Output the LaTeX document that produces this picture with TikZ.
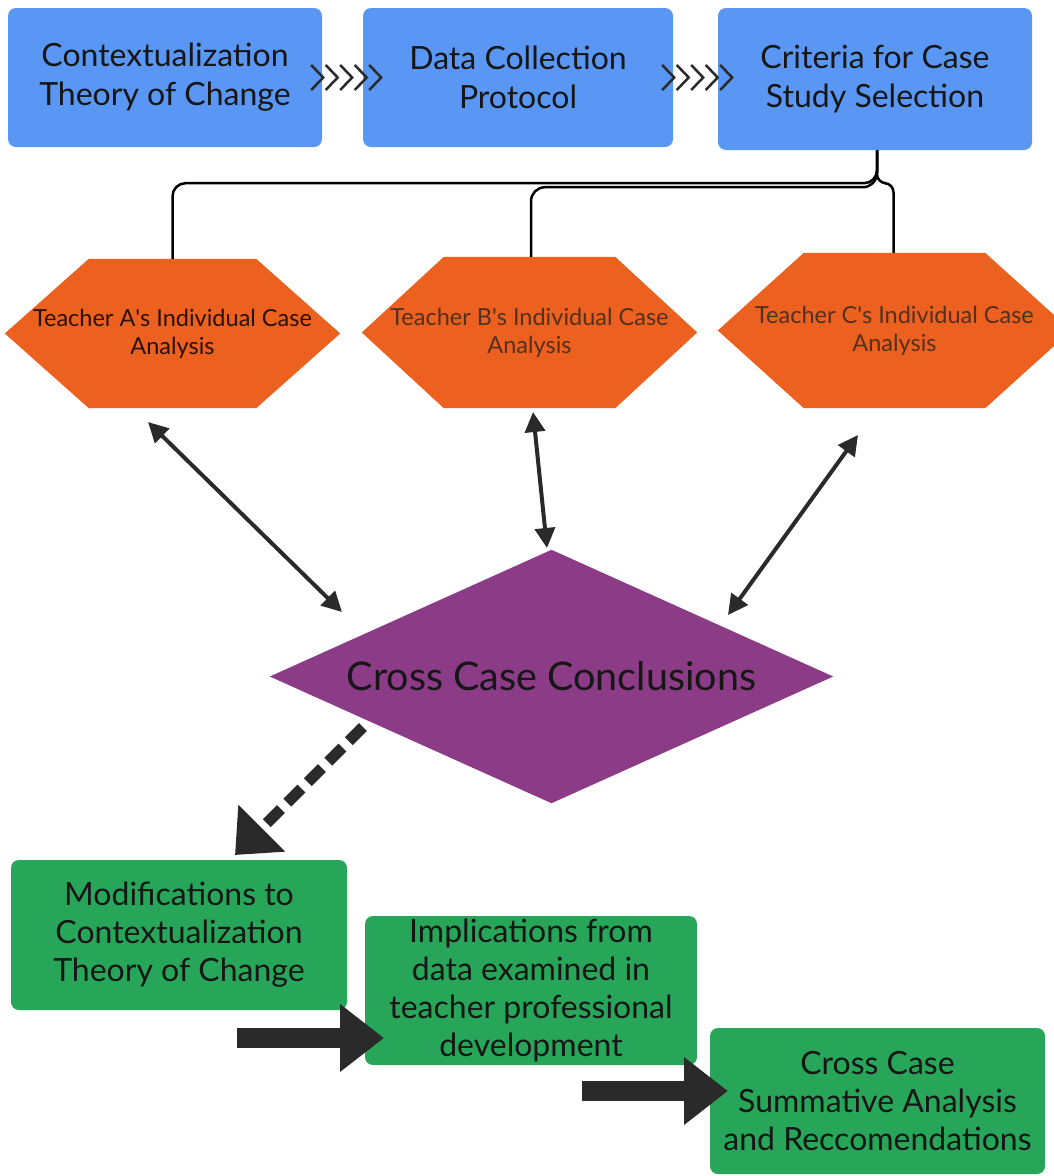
\documentclass[tikz,border=0pt]{standalone}
\usepackage{fontspec}
\setmainfont{Lato}
\usetikzlibrary{arrows.meta,backgrounds}
\definecolor{cblue}{HTML}{5A96F4}
\definecolor{corange}{HTML}{EC6020}
\definecolor{cpurple}{HTML}{8C3B86}
\definecolor{cgreen}{HTML}{27A65A}
\definecolor{cdark}{HTML}{2A2A2A}
\definecolor{ctxt}{HTML}{161616}
\definecolor{chexA}{HTML}{2A1206}
\definecolor{chex}{HTML}{55301C}
\begin{document}
\begin{tikzpicture}[x=1pt,y=-1pt,
  bluebox/.style={fill=cblue, rounded corners=8pt, inner sep=0pt, text=ctxt, align=center,
    font=\fontsize{32}{39}\selectfont},
  greenbox/.style={fill=cgreen, rounded corners=8pt, inner sep=0pt, text=ctxt, align=center,
    font=\fontsize{32}{38}\selectfont},
  hexnode/.style={inner sep=0pt, align=center, font=\fontsize{23.5}{28}\selectfont},
  chev/.style={draw=cdark, line width=2.5pt, line join=miter},
  conn/.style={draw=black, line width=2.5pt},
  dbl/.style={cdark, line width=4pt, {Triangle[length=20pt,width=20pt]}-{Triangle[length=20pt,width=20pt]}},
  dasharrow/.style={cdark, line width=11pt, dash pattern=on 20pt off 9pt, -{Triangle[length=38pt,width=64pt]}},
  fatarrow/.style={cdark, line width=20pt, -{Triangle[length=44pt,width=65pt]}}
]
\useasboundingbox (0,0) rectangle (1053,1176);

% top boxes
\node[bluebox, minimum width=314pt, minimum height=139pt] (b1) at (165,77.5) {Contextualization\\Theory of Change};
\node[bluebox, minimum width=310pt, minimum height=139pt] (b2) at (518,77.5) {Data Collection\\Protocol};
\node[bluebox, minimum width=314pt, minimum height=142pt] (b3) at (875,79) {Criteria for Case\\Study Selection};

% chevron connectors
\foreach \i in {0,...,4} {
  \draw[chev] ([xshift={-11pt+14.5pt*\i}, yshift=12.5pt]b1.east) -- ++(12,12.5) -- ++(-12,12.5);
  \draw[chev] ([xshift={-11pt+14.5pt*\i}, yshift=12.5pt]b2.east) -- ++(12,12.5) -- ++(-12,12.5);
}

% hexagons
\node[hexnode, minimum width=335pt, minimum height=149pt, text=chexA] (hA) at (172.5,333.5) {Teacher A\textquotesingle s Individual Case\\Analysis};
\node[hexnode, minimum width=335pt, minimum height=151pt, text=chex] (hB) at (529.5,332.5) {Teacher B\textquotesingle s Individual Case\\Analysis};
\node[hexnode, minimum width=353pt, minimum height=155pt, text=chex] (hC) at (894.5,330.5) {Teacher C\textquotesingle s Individual Case\\Analysis};

% diamond
\node[inner sep=0pt, minimum width=563pt, minimum height=253pt, text=ctxt,
      font=\fontsize{39.5}{47}\selectfont] (cc) at (551.5,676.5) {Cross Case Conclusions};

\begin{scope}[on background layer]
  \foreach \n/\d in {hA/84,hB/82,hC/86}
    \fill[corange] (\n.west) -- ([xshift=\d pt]\n.north west) -- ([xshift=-\d pt]\n.north east)
      -- (\n.east) -- ([xshift=-\d pt]\n.south east) -- ([xshift=\d pt]\n.south west) -- cycle;
  \fill[cpurple] (cc.west) -- (cc.north) -- (cc.east) -- (cc.south) -- cycle;
\end{scope}

% brace connector from b3 to hexagons
\draw[conn, rounded corners=13pt] ([xshift=2pt]b3.south) -- ++(0,33) -| (hA.north);
\draw[conn, rounded corners=14pt] ([xshift=2pt]b3.south) -- ++(0,37) -| ([xshift=1.5pt]hB.north);
\draw[conn, rounded corners=9pt] ([xshift=2pt]b3.south) -- ++(0,33) -| ([xshift=-1pt]hC.north);

% double arrows
\coordinate (aA1) at (148,422); \coordinate (aA2) at (342,612);
\coordinate (aB1) at (533,412); \coordinate (aB2) at (547,548);
\coordinate (aC1) at (858,435); \coordinate (aC2) at (728,615);
\draw[dbl] (aA1) -- (aA2);
\draw[dbl] (aB1) -- (aB2);
\draw[dbl] (aC1) -- (aC2);

% green boxes
\node[greenbox, minimum width=336pt, minimum height=150pt] (g1) at (179,935) {Modifications to\\Contextualization\\Theory of Change};
\node[greenbox, minimum width=332pt, minimum height=149pt] (g2) at (531,990.5) {Implications from\\data examined in\\teacher professional\\development};
\node[greenbox, minimum width=335pt, minimum height=146pt] (g3) at (877.5,1101) {Cross Case\\Summative Analysis\\and Reccomendations};

% dashed arrow
\coordinate (d1) at (363,727); \coordinate (d2) at (235,855);
\draw[dasharrow] (d1) -- (d2);

% fat arrows
\coordinate (f1s) at (237,1038); \coordinate (f1e) at (384,1038);
\coordinate (f2s) at (582,1091); \coordinate (f2e) at (728,1091);
\draw[fatarrow] (f1s) -- (f1e);
\draw[fatarrow] (f2s) -- (f2e);
\end{tikzpicture}
\end{document}
